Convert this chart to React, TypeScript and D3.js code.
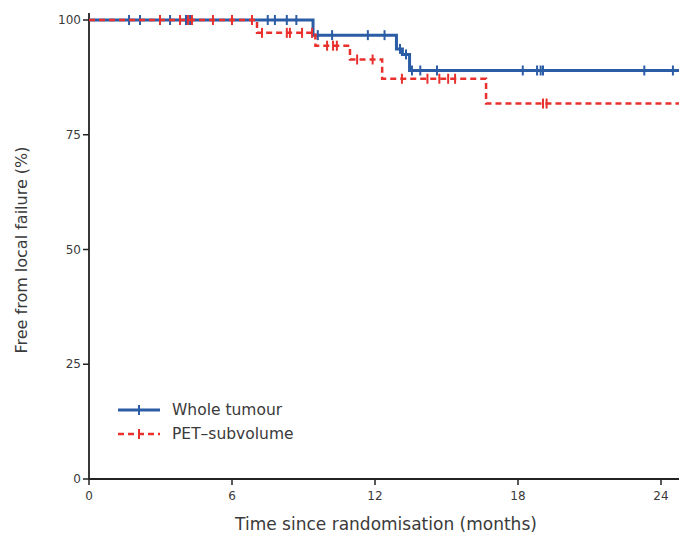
import React from "react";
import * as d3 from "d3";

const xTicks = [0, 6, 12, 18, 24];
const yTicks = [0, 25, 50, 75, 100];

const wholeTimes = [0, 9.4, 12.9, 13.15, 13.45, 24.8];
const wholeSurv = [100, 96.7, 93.7, 92.5, 89.0, 89.0];
const wholeCensorT = [1.68, 2.14, 3.4, 4.07, 4.24, 7.5, 7.8, 8.3, 8.7, 9.6, 10.2, 11.7, 12.4, 13.05, 13.3, 13.55, 13.9, 14.6, 18.2, 18.8, 18.95, 19.05, 23.3, 24.5];

const petTimes = [0, 7.05, 9.5, 10.95, 12.3, 16.66, 24.8];
const petSurv = [100, 97.2, 94.4, 91.4, 87.2, 81.8, 81.8];
const petCensorT = [2.98, 3.82, 4.15, 4.32, 5.2, 6.0, 6.84, 7.26, 8.3, 8.43, 8.94, 9.36, 9.99, 10.24, 10.4, 11.25, 11.9, 13.13, 14.2, 14.7, 15.07, 15.36, 19.05, 19.2];

const seriesNames = ["Whole tumour", "PET\u2013subvolume"];
const BLUE = "#2b5ca6";
const RED = "#e8302d";

function survAt(times: number[], surv: number[], t: number) {
  let s = surv[0];
  for (let i = 0; i < times.length; i++) if (times[i] <= t) s = surv[i];
  return s;
}

export default function App() {
  const W = 679, H = 540;
  const x = d3.scaleLinear().domain([0, 24]).range([89, 661]);
  const y = d3.scaleLinear().domain([0, 100]).range([479, 20]);
  const line = d3.line<[number, number]>().x(d => x(d[0])).y(d => y(d[1])).curve(d3.curveStepAfter);
  const wholePts = wholeTimes.map((t, i) => [t, wholeSurv[i]] as [number, number]);
  const petPts = petTimes.map((t, i) => [t, petSurv[i]] as [number, number]);
  const font = "'DejaVu Sans', sans-serif";
  const txt = "#3a3a3a";
  return (
    <svg width={W} height={H} style={{ position: "absolute", left: 0, top: 0 }} fontFamily={font}>
      <rect width={W} height={H} fill="#fff" />
      {/* axes */}
      <line x1={x(0)} x2={x(0)} y1={13} y2={y(0)} stroke="#222" strokeWidth={1.8} />
      <line x1={x(0)} x2={W} y1={y(0)} y2={y(0)} stroke="#222" strokeWidth={1.8} />
      {yTicks.map(t => (
        <g key={"y" + t}>
          <line x1={x(0) - 6} x2={x(0)} y1={y(t)} y2={y(t)} stroke="#222" strokeWidth={1.5} />
          <text x={x(0) - 8} y={y(t)} dy="0.35em" textAnchor="end" fontSize={12} fill={txt}>{t}</text>
        </g>
      ))}
      {xTicks.map(t => (
        <g key={"x" + t}>
          <line x1={x(t)} x2={x(t)} y1={y(0)} y2={y(0) + 6} stroke="#222" strokeWidth={1.5} />
          <text x={x(t)} y={y(0) + 21} textAnchor="middle" fontSize={12} fill={txt}>{t}</text>
        </g>
      ))}
      <text x={386} y={530} textAnchor="middle" fontSize={17} fill={txt}>Time since randomisation (months)</text>
      <text transform={`translate(27,250) rotate(-90)`} textAnchor="middle" fontSize={16} fill={txt}>Free from local failure (%)</text>
      {/* curves */}
      <path d={line(wholePts) || ""} fill="none" stroke={BLUE} strokeWidth={3} />
      {wholeCensorT.map((t, i) => (
        <line key={"wc" + i} x1={x(t)} x2={x(t)} y1={y(survAt(wholeTimes, wholeSurv, t)) - 5} y2={y(survAt(wholeTimes, wholeSurv, t)) + 5} stroke={BLUE} strokeWidth={2} />
      ))}
      <path d={line(petPts) || ""} fill="none" stroke={RED} strokeWidth={2.5} strokeDasharray="6,4" />
      {petCensorT.map((t, i) => (
        <line key={"pc" + i} x1={x(t)} x2={x(t)} y1={y(survAt(petTimes, petSurv, t)) - 5} y2={y(survAt(petTimes, petSurv, t)) + 5} stroke={RED} strokeWidth={2} />
      ))}
      {/* legend */}
      <g>
        <line x1={118} x2={160} y1={410} y2={410} stroke={BLUE} strokeWidth={3} />
        <line x1={139} x2={139} y1={405} y2={415} stroke={BLUE} strokeWidth={2} />
        <text x={172} y={410} dy="0.35em" fontSize={15.5} fill={txt}>{seriesNames[0]}</text>
        <line x1={118} x2={160} y1={434} y2={434} stroke={RED} strokeWidth={2.5} strokeDasharray="6,4" />
        <line x1={139} x2={139} y1={429} y2={439} stroke={RED} strokeWidth={2} />
        <text x={172} y={434} dy="0.35em" fontSize={15.5} fill={txt}>{seriesNames[1]}</text>
      </g>
    </svg>
  );
}
